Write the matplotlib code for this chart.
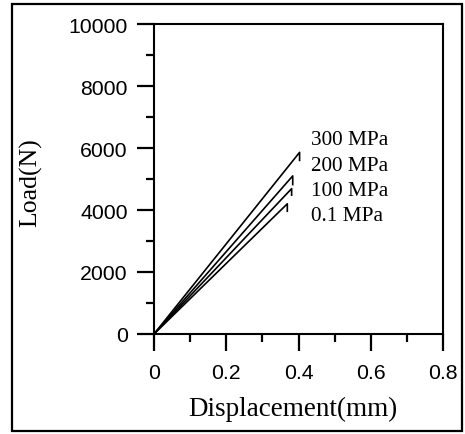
"""
Load vs displacement at different confining pressures
"""
import matplotlib.pyplot as plt
from matplotlib.patches import Rectangle
from matplotlib.ticker import MultipleLocator

# pressure labels and curve data
pressures = ["300 MPa", "200 MPa", "100 MPa", "0.1 MPa"]
peak_disp = [0.403, 0.384, 0.381, 0.369]
peak_load = [5860, 5100, 4690, 4200]
drop_load = [5600, 4820, 4480, 3960]
label_y = [6126, 5285, 4476, 3689]

SERIF = ["Liberation Serif", "DejaVu Serif"]
SANS = ["Liberation Sans", "DejaVu Sans"]

fig = plt.figure(figsize=(4.65, 4.35), dpi=100)
ax = fig.add_axes([0.3312, 0.2299, 0.6215, 0.7126])

for name, px, py, dy, ly in zip(pressures, peak_disp, peak_load, drop_load, label_y):
	ax.plot([0, px, px], [0, py, dy], "-", color="black", lw=1.2)
	ax.text(0.434, ly, name, family=SERIF, fontsize=15.3, va="baseline", ha="left")

ax.set_xlim(0, 0.8)
ax.set_ylim(0, 10000)
ax.xaxis.set_major_locator(MultipleLocator(0.2))
ax.xaxis.set_minor_locator(MultipleLocator(0.1))
ax.yaxis.set_major_locator(MultipleLocator(2000))
ax.yaxis.set_minor_locator(MultipleLocator(1000))
ax.set_xticks([0, 0.2, 0.4, 0.6, 0.8], ["0", "0.2", "0.4", "0.6", "0.8"])

ax.tick_params(which="major", direction="out", length=12, width=1.6, pad=7)
ax.tick_params(which="minor", direction="out", length=6, width=1.6)
ax.tick_params(axis="x", which="major", pad=9)
for lab in ax.get_xticklabels() + ax.get_yticklabels():
	lab.set_family(SANS)
	lab.set_fontsize(15.3)
for sp in ax.spines.values():
	sp.set_linewidth(1.5)

ax.set_xlabel("Displacement(mm)", family=SERIF, fontsize=19.5)
ax.set_ylabel("Load(N)", family=SERIF, fontsize=18.5)
ax.xaxis.set_label_coords(0.48, -0.2)
ax.yaxis.set_label_coords(-0.385, 0.49)

# outer frame around the whole figure
fig.patches.append(Rectangle((0.0258, 0.0069), 0.9677, 0.9816, transform=fig.transFigure,
	fill=False, edgecolor="black", lw=1.6))

fig.savefig("out.png", dpi=100)
